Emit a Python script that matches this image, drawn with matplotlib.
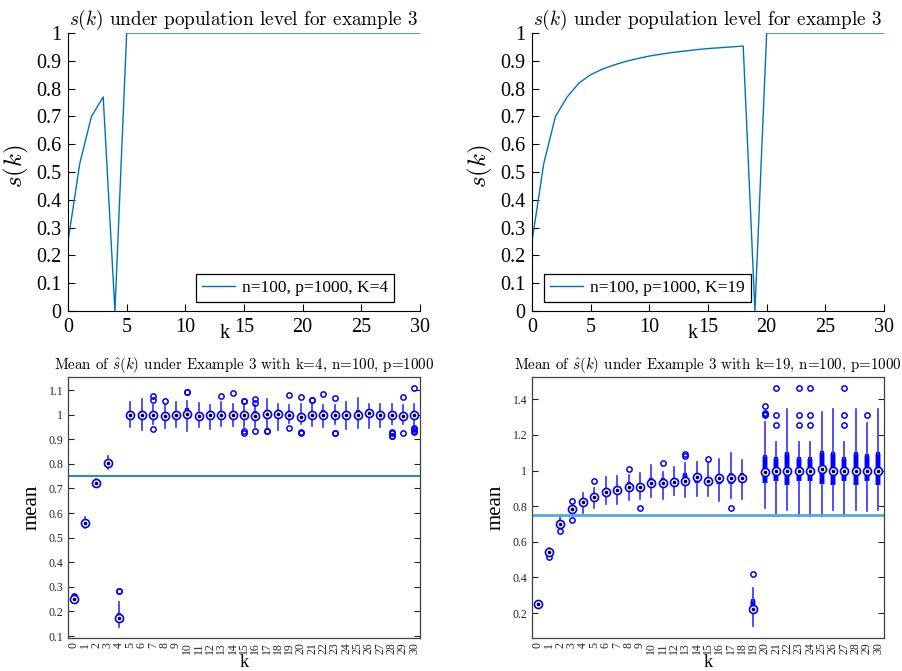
import matplotlib.pyplot as plt
from matplotlib.ticker import FormatStrFormatter

plt.rcParams['font.family'] = 'Liberation Serif'
plt.rcParams['mathtext.fontset'] = 'cm'

# ---- data ----
k = list(range(31))

s_K4 = [0.25, 0.53, 0.70, 0.77, 0.0, 1, 1, 1, 1, 1, 1, 1, 1, 1, 1, 1,
        1, 1, 1, 1, 1, 1, 1, 1, 1, 1, 1, 1, 1, 1, 1]
s_K19 = [0.25, 0.53, 0.70, 0.77, 0.82, 0.85, 0.87, 0.885, 0.898, 0.908,
         0.917, 0.924, 0.93, 0.935, 0.94, 0.944, 0.947, 0.95, 0.953, 0.0,
         1, 1, 1, 1, 1, 1, 1, 1, 1, 1, 1]

# example K=4 : boxplot summaries
med4 = [0.252, 0.56, 0.723, 0.804, 0.172, 1.0, 1.0, 1.0, 0.994, 1.0, 1.004,
        0.994, 1.0, 1.0, 1.0, 1.0, 0.996, 1.004, 1.001, 1.0, 0.991, 1.0, 1.0,
        1.0, 1.0, 1.0, 1.007, 1.0, 1.0, 0.996, 1.0]
q1_4 = [0.25, 0.555, 0.718, 0.80, 0.165, 0.995, 0.995, 0.995, 0.99, 0.995, 0.99,
        0.99, 0.995, 0.995, 0.995, 0.995, 0.985, 0.995, 0.995, 0.995, 0.985, 0.995, 0.995,
        0.995, 0.995, 0.995, 0.995, 0.995, 0.995, 0.99, 0.995]
q3_4 = [0.255, 0.565, 0.728, 0.808, 0.185, 1.005, 1.005, 1.005, 1.0, 1.005, 1.02,
        1.0, 1.005, 1.005, 1.005, 1.005, 1.005, 1.01, 1.01, 1.005, 1.0, 1.005, 1.01,
        1.005, 1.005, 1.01, 1.015, 1.005, 1.005, 1.0, 1.005]
lo4 = [0.248, 0.538, 0.71, 0.78, 0.138, 0.951, 0.937, 0.96, 0.945, 0.951, 0.934,
       0.951, 0.94, 0.953, 0.955, 0.95, 0.95, 0.94, 0.937, 0.965, 0.96, 0.955, 0.95,
       0.96, 0.94, 0.944, 0.945, 0.95, 0.96, 0.96, 0.951]
hi4 = [0.256, 0.585, 0.74, 0.83, 0.24, 1.052, 1.062, 1.04, 1.039, 1.05, 1.056,
       1.048, 1.04, 1.052, 1.045, 1.045, 1.04, 1.062, 1.043, 1.039, 1.044, 1.044, 1.04,
       1.04, 1.05, 1.066, 1.045, 1.045, 1.045, 1.04, 1.044]
out4 = [[0.262, 0.258, 0.248], [], [], [], [0.283, 0.283], [], [], [1.077, 1.059, 0.94],
        [1.054], [], [1.092, 1.092], [], [], [1.074], [1.089], [1.054, 1.054, 0.934, 0.924],
        [1.063, 1.046, 0.933], [0.935, 0.935], [], [1.08, 0.944], [1.07, 0.93, 0.927],
        [1.058, 1.058], [1.082], [1.067, 0.926, 0.926], [], [], [], [],
        [0.93, 0.924, 0.913, 0.913], [1.07, 0.926], [1.107, 0.944, 0.94, 0.935, 0.93]]

# example K=19 : boxplot summaries
med19 = [0.25, 0.54, 0.70, 0.783, 0.826, 0.85, 0.88, 0.891, 0.906, 0.91, 0.929,
         0.929, 0.936, 0.944, 0.966, 0.94, 0.957, 0.958, 0.957, 0.224, 0.99, 1.0, 1.0,
         1.0, 1.0, 1.009, 1.0, 1.0, 1.0, 1.0, 1.0]
q1_19 = [0.248, 0.535, 0.695, 0.775, 0.82, 0.845, 0.87, 0.885, 0.895, 0.905, 0.92,
         0.91, 0.925, 0.93, 0.93, 0.925, 0.925, 0.925, 0.935, 0.2, 0.929, 0.94, 0.918,
         0.94, 0.94, 0.924, 0.918, 0.94, 0.918, 0.94, 0.918]
q3_19 = [0.252, 0.55, 0.71, 0.79, 0.835, 0.865, 0.89, 0.9, 0.925, 0.92, 0.945,
         0.945, 0.945, 0.975, 0.975, 0.955, 0.97, 0.975, 0.975, 0.265, 1.075, 1.063, 1.093,
         1.063, 1.063, 1.096, 1.093, 1.063, 1.093, 1.08, 1.093]
lo19 = [0.245, 0.53, 0.677, 0.742, 0.764, 0.789, 0.811, 0.811, 0.835, 0.839, 0.85,
        0.84, 0.865, 0.85, 0.858, 0.858, 0.831, 0.845, 0.84, 0.125, 0.789, 0.745, 0.779,
        0.745, 0.745, 0.745, 0.779, 0.745, 0.779, 0.775, 0.779]
hi19 = [0.255, 0.565, 0.738, 0.807, 0.876, 0.901, 0.963, 0.97, 0.975, 0.985, 1.031,
        0.99, 1.02, 1.04, 1.05, 1.04, 1.065, 1.097, 1.06, 0.34, 1.275, 1.162, 1.345,
        1.162, 1.162, 1.33, 1.345, 1.162, 1.345, 1.265, 1.345]
out19 = [[], [0.514], [0.661], [0.831, 0.723], [], [0.94], [], [], [1.011], [0.792],
         [], [1.044], [], [1.09, 1.082], [], [1.065], [], [0.79], [], [0.42],
         [1.362, 1.321, 1.314, 1.318], [1.462, 1.31, 1.258], [], [1.462, 1.31, 1.258],
         [1.462, 1.31, 1.258], [], [], [1.462, 1.31, 1.258], [], [1.31], []]

LINE = '#0072BD'
BLUE = '#0000FF'
W, H = 903, 671
fig = plt.figure(figsize=(W / 100, H / 100), dpi=100)


def top_panel(left, s, label, legend_anchor, legend_loc, klabel_x):
    ax = fig.add_axes([left / W, 1 - 311 / H, 352 / W, 278 / H])
    ax.plot(k, s, color=LINE, lw=1.0, label=label)
    ax.set_xlim(0, 30)
    ax.set_ylim(0, 1)
    ax.set_xticks([0, 5, 10, 15, 20, 25, 30])
    ax.set_yticks([0, 0.1, 0.2, 0.3, 0.4, 0.5, 0.6, 0.7, 0.8, 0.9, 1])
    ax.yaxis.set_major_formatter(FormatStrFormatter('%g'))
    ax.spines['top'].set_visible(False)
    ax.spines['right'].set_visible(False)
    ax.tick_params(direction='in', length=5, labelsize=14.5, pad=5)
    ax.set_title('$s(k)$ under population level for example 3',
                 fontfamily='cmr10', fontsize=13.8, pad=6)
    ax.set_ylabel('$s(k)$', fontsize=18)
    ax.yaxis.set_label_coords(-0.105, 0.52)
    ax.set_xlabel('k', fontsize=14.5)
    ax.xaxis.set_label_coords(klabel_x, -0.045)
    leg = ax.legend(loc=legend_loc, bbox_to_anchor=legend_anchor, fontsize=12.5,
                    fancybox=False, framealpha=1, edgecolor='black',
                    handlelength=1.9, handletextpad=0.4, borderpad=0.35,
                    borderaxespad=0)
    leg.get_frame().set_linewidth(0.9)
    return ax


def box_panel(left, med, q1, q3, lo, hi, out, title, ylim, yticks, line_col, line_w):
    ax = fig.add_axes([left / W, 1 - 638 / H, 352 / W, 261 / H])
    stats = []
    for i in range(len(k)):
        stats.append(dict(med=med[i], q1=q1[i], q3=q3[i], whislo=lo[i],
                          whishi=hi[i], fliers=out[i]))
    ax.bxp(stats, positions=k, widths=0.001, showcaps=False,
           boxprops=dict(color=BLUE, lw=3.2, solid_capstyle='butt'),
           whiskerprops=dict(color='#3030FF', lw=1.2),
           medianprops=dict(lw=0),
           flierprops=dict(marker='o', mfc='none', mec=BLUE, ms=3.8, mew=1.1))
    ax.plot(k, med, 'o', mfc='white', mec=BLUE, ms=5.8, mew=1.2, ls='none')
    ax.plot(k, med, 'o', color='black', ms=1.6, ls='none')
    ax.axhline(0.75, color=line_col, lw=line_w)
    ax.set_xlim(-0.5, 30.5)
    ax.set_ylim(*ylim)
    ax.set_yticks(yticks)
    ax.yaxis.set_major_formatter(FormatStrFormatter('%g'))
    ax.set_xticks(k)
    ax.set_xticklabels([str(v) for v in k], rotation=90)
    ax.tick_params(axis='x', length=0, labelsize=8.5, pad=3, colors='#262626')
    ax.tick_params(axis='y', direction='in', length=4, left=True, right=True,
                   labelsize=8.5, colors='#262626')
    for sp in ax.spines.values():
        sp.set_color('#404040')
        sp.set_linewidth(0.9)
    ax.set_title(title, fontfamily='cmr10', fontsize=10.8, pad=6)
    ax.set_ylabel('mean', fontsize=15)
    ax.yaxis.set_label_coords(-0.075, 0.5)
    ax.set_xlabel('k', fontsize=13, labelpad=0)
    return ax


top_panel(68, s_K4, 'n=100, p=1000, K=4', (0.926, 0.032), 'lower right', 0.446)
top_panel(532, s_K19, 'n=100, p=1000, K=19', (0.034, 0.032), 'lower left', 0.455)

box_panel(68, med4, q1_4, q3_4, lo4, hi4, out4,
          r'Mean of $\hat{s}(k)$ under Example 3 with k=4, n=100, p=1000',
          (0.092, 1.153), [0.1, 0.2, 0.3, 0.4, 0.5, 0.6, 0.7, 0.8, 0.9, 1, 1.1],
          LINE, 1.2)
box_panel(532, med19, q1_19, q3_19, lo19, hi19, out19,
          r'Mean of $\hat{s}(k)$ under Example 3 with k=19, n=100, p=1000',
          (0.06, 1.525), [0.2, 0.4, 0.6, 0.8, 1, 1.2, 1.4],
          '#5AA7DD', 2.0)

fig.savefig('out.png', dpi=100)
